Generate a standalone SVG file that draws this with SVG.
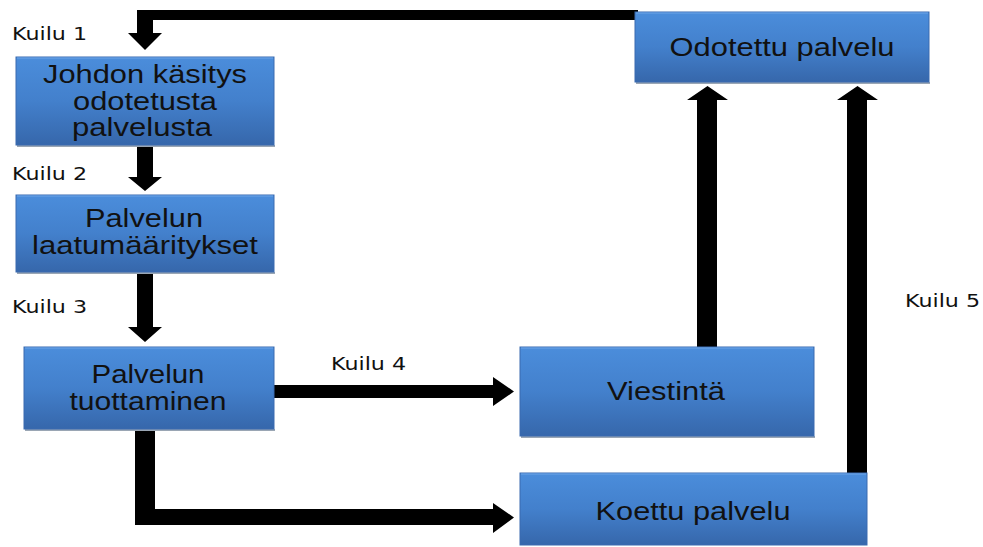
<svg xmlns="http://www.w3.org/2000/svg" width="983" height="547" viewBox="0 0 983 547">
<style>
.box{fill:url(#bg);stroke:#3a6bb0;stroke-width:1}
.hl{fill:none;stroke:#6fa6e8;stroke-width:1.2}
.sh{fill:#9aa6b4}
.t{font-family:"Liberation Sans",Arial,sans-serif;font-size:25px;fill:#111;text-anchor:middle}
.k{font-family:"DejaVu Sans",sans-serif;font-size:17.5px;fill:#111}
.c{fill:#000}
</style>
<defs>
<linearGradient id="bg" x1="0" y1="0" x2="0" y2="1">
<stop offset="0" stop-color="#4b8ddb"/>
<stop offset="0.5" stop-color="#4380cc"/>
<stop offset="1" stop-color="#3667ab"/>
</linearGradient>
</defs>
<rect width="983" height="547" fill="#fff"/>
<g id="connectors">
<polygon class="c" points="638,10 638,20 153,20 153,33 162,33 145,50 128,33 137,33 137,10"/>
<polygon class="c" points="137,145 153,145 153,177 162,177 145,191 128,177 137,177"/>
<polygon class="c" points="137,272 153,272 153,327 162,327 145,342 128,327 137,327"/>
<polygon class="c" points="274,385 493,385 493,377 514,391.5 493,406 493,398 274,398"/>
<polygon class="c" points="135,429 155,429 155,509 493,509 493,503 514,517.5 493,533 493,525 135,525"/>
<polygon class="c" points="697,347 697,100 687,100 707.5,86 728,100 717,100 717,347"/>
<polygon class="c" points="847,474 847,100 837,100 857.5,86 878,100 867,100 867,474"/>
</g>
<g id="labels">
<text class="k" x="12" y="40" textLength="75" lengthAdjust="spacingAndGlyphs">Kuilu 1</text>
<text class="k" x="12" y="180" textLength="75" lengthAdjust="spacingAndGlyphs">Kuilu 2</text>
<text class="k" x="12" y="313" textLength="75" lengthAdjust="spacingAndGlyphs">Kuilu 3</text>
<text class="k" x="331" y="370" textLength="75" lengthAdjust="spacingAndGlyphs">Kuilu 4</text>
<text class="k" x="905" y="307" textLength="75" lengthAdjust="spacingAndGlyphs">Kuilu 5</text>
</g>
<g id="node-johdon">
<rect class="sh" x="17" y="145" width="258" height="2"/>
<rect class="box" x="16" y="57" width="258" height="88"/>
<line class="hl" x1="17" y1="58" x2="273" y2="58"/>
<text class="t" x="145" y="83" textLength="204" lengthAdjust="spacingAndGlyphs">Johdon käsitys</text>
<text class="t" x="145" y="110" textLength="144" lengthAdjust="spacingAndGlyphs">odotetusta</text>
<text class="t" x="142" y="136" textLength="140" lengthAdjust="spacingAndGlyphs">palvelusta</text>
</g>
<g id="node-laatu">
<rect class="sh" x="17" y="272" width="258" height="2"/>
<rect class="box" x="16" y="195" width="258" height="77"/>
<line class="hl" x1="17" y1="196" x2="273" y2="196"/>
<text class="t" x="144" y="227" textLength="118" lengthAdjust="spacingAndGlyphs">Palvelun</text>
<text class="t" x="145" y="254" textLength="226" lengthAdjust="spacingAndGlyphs">laatumääritykset</text>
</g>
<g id="node-tuottaminen">
<rect class="sh" x="25" y="429" width="250" height="2"/>
<rect class="box" x="24" y="347" width="250" height="82"/>
<line class="hl" x1="25" y1="348" x2="273" y2="348"/>
<text class="t" x="148" y="383" textLength="113" lengthAdjust="spacingAndGlyphs">Palvelun</text>
<text class="t" x="148" y="410" textLength="157" lengthAdjust="spacingAndGlyphs">tuottaminen</text>
</g>
<g id="node-viestinta">
<rect class="sh" x="521" y="436" width="294" height="2"/>
<rect class="box" x="520" y="347" width="294" height="89"/>
<line class="hl" x1="521" y1="348" x2="813" y2="348"/>
<text class="t" x="666" y="400" textLength="118" lengthAdjust="spacingAndGlyphs">Viestintä</text>
</g>
<g id="node-koettu">
<rect class="box" x="520" y="473" width="347" height="72"/>
<line class="hl" x1="521" y1="474" x2="866" y2="474"/>
<text class="t" x="693" y="520" textLength="195" lengthAdjust="spacingAndGlyphs">Koettu palvelu</text>
</g>
<g id="node-odotettu">
<rect class="sh" x="636" y="82" width="294" height="2"/>
<rect class="box" x="635" y="12" width="294" height="70"/>
<line class="hl" x1="636" y1="13" x2="928" y2="13"/>
<text class="t" x="782" y="56" textLength="225" lengthAdjust="spacingAndGlyphs">Odotettu palvelu</text>
</g>
</svg>
